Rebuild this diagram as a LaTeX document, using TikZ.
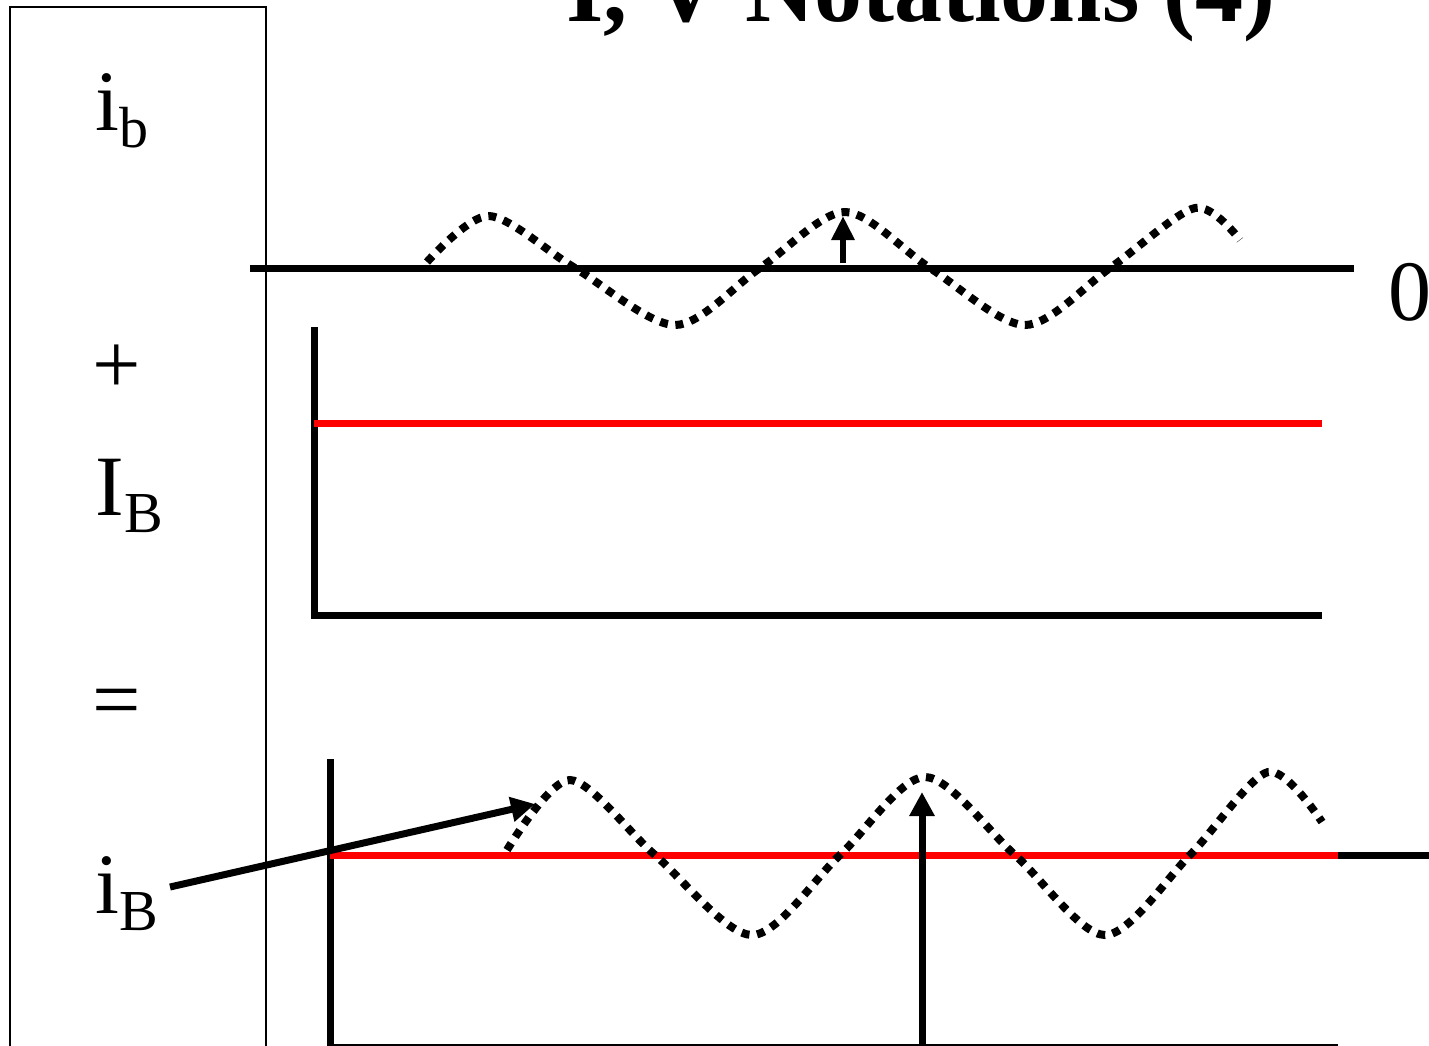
\documentclass[tikz,border=0pt]{standalone}
\usepackage{fontspec}
\setmainfont{Liberation Serif}
\usetikzlibrary{arrows.meta,positioning}
\newcommand{\sublbl}[2]{#1\raisebox{-8.5pt}{\fontsize{29}{32}\selectfont #2}}

\begin{document}
\begin{tikzpicture}[x=0.5pt,y=-0.5pt,>={Triangle[length=12pt,width=12pt]},
  lbl/.style={anchor=base west,inner sep=0pt,font=\fontsize{43}{50}\selectfont},
  axis/.style={line width=3.5pt},
  level/.style={line width=3.5pt,red},
  wave/.style={line width=4pt,dash pattern=on 4pt off 3.8pt},
  pointer/.style={line width=3.5pt,->}]
\useasboundingbox (0,0) rectangle (1429,1045);
% left column
\draw[line width=1pt] (10,1050) -- (10,7) -- (266,7) -- (266,1050);
\node[anchor=base,inner sep=0pt,font=\fontsize{48}{56}\selectfont\bfseries] (title) at (921,21) {I, V Notations (4)};
\node[lbl] (ib) at (95,130) {\sublbl{i}{b}};
\node[lbl,anchor=center] (plus) at (117,369) {+};
\node[lbl] (IB) at (95,515) {\sublbl{I}{B}};
\node[lbl,anchor=center] (eq) at (117,709) {=};
\node[lbl] (iB) at (95,913) {\sublbl{i}{B}};
% small signal
\draw[axis] (250,268) -- (1354,268);
\node[lbl,anchor=base west] (zero) at (1388,320) {0};
\draw[wave] plot[smooth] coordinates {(427,262) (489,216) (575,268) (675,325) (760,268) (845,212) (930,268) (1025,325) (1110,268) (1195,208) (1240,240)};
\coordinate (sbase) at (843,263);
\coordinate (stip) at (843,216);
\draw[line width=3pt,->,>={Triangle[length=12pt,width=11pt]}] (sbase) -- (stip);
% dc level
\draw[axis] (314,327) -- (314,615) -- (1322,615);
\draw[level] (314,423) -- (1322,423);
% total
\draw[axis] (330,759) -- (330,1050);
\draw[axis] (330,1047) -- (1338,1047);
\draw[level] (330,855) -- (1338,855);
\draw[axis] (1338,855) -- (1429,855);
\draw[wave] plot[smooth] coordinates {(507,850) (570,780) (655,855) (752,935) (840,855) (925,777) (1015,855) (1105,935) (1190,855) (1268,772) (1322,822)};
\coordinate (tbase) at (922,1050);
\coordinate (ttip) at (922,792);
\draw[pointer] (tbase) -- (ttip);
\coordinate (atail) at (170,887);
\coordinate (ahead) at (535,804);
\draw[pointer] (atail) -- (ahead);
\end{tikzpicture}
\end{document}
